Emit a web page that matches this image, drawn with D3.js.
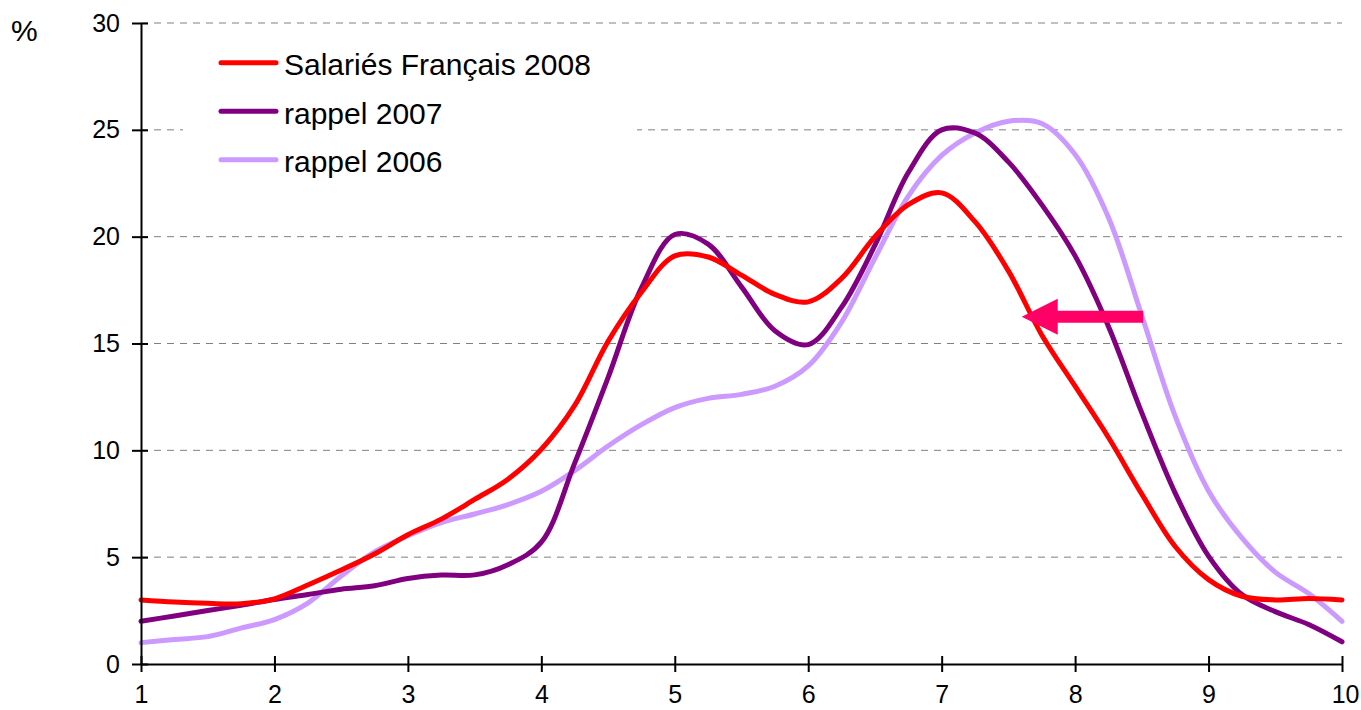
<!DOCTYPE html>
<html>
<head>
<meta charset="utf-8">
<script src="https://cdn.jsdelivr.net/npm/d3@7"></script>
<style>
  body { margin: 0; background: #fff; }
  text { font-family: "Liberation Sans", Arial, sans-serif; fill: #000; }
</style>
</head>
<body>
<div id="chart"></div>
<script>
// x positions shared by the three series (read every 0.25)
var xs = [1, 1.25, 1.5, 1.75, 2, 2.25, 2.5, 2.75, 3, 3.25, 3.5, 3.75, 4, 4.25, 4.5, 4.75,
          5, 5.25, 5.5, 5.75, 6, 6.25, 6.5, 6.75, 7, 7.25, 7.5, 7.75, 8, 8.25, 8.5, 8.75,
          9, 9.25, 9.5, 9.75, 10];

var salaries2008 = [3.0, 2.9, 2.84, 2.82, 3.05, 3.7, 4.4, 5.15, 6.05, 6.78, 7.7, 8.65, 10.05, 12.1, 15.1, 17.4,
                    19.1, 19.05, 18.2, 17.3, 16.95, 18.05, 20.0, 21.5, 22.05, 20.7, 18.4, 15.4, 13.0, 10.6, 7.95, 5.5,
                    3.95, 3.17, 3.0, 3.07, 3.0];

var rappel2007 = [2.0, 2.25, 2.5, 2.75, 3.02, 3.25, 3.5, 3.66, 4.0, 4.16, 4.17, 4.65, 5.7, 9.4, 13.4, 17.6,
                  20.1, 19.65, 17.65, 15.6, 14.95, 16.7, 19.6, 23.0, 25.0, 24.85, 23.5, 21.5, 19.1, 15.8, 11.75, 8.0,
                  5.05, 3.25, 2.45, 1.85, 1.04];

var rappel2006 = [1.0, 1.15, 1.28, 1.68, 2.08, 2.85, 4.12, 5.25, 6.0, 6.62, 7.02, 7.46, 8.08, 9.05, 10.2, 11.2,
                  12.0, 12.43, 12.62, 13.0, 13.95, 16.0, 19.0, 21.9, 23.8, 24.85, 25.4, 25.3, 23.85, 20.9, 16.3, 11.6,
                  8.1, 5.9, 4.3, 3.3, 2.0];

var seriesNames = ["Salariés Français 2008", "rappel 2007", "rappel 2006"];
var seriesColors = ["#ff0000", "#800080", "#cc99ff"];
var yTicks = [0, 5, 10, 15, 20, 25, 30];
var xTicks = [1, 2, 3, 4, 5, 6, 7, 8, 9, 10];

// arrow (data units): horizontal, from 2006 curve back to 2008 curve
var arrowY = 16.25, arrowFrom = 8.51, arrowTo = 7.6;

var width = 1361, height = 710;
var margin = { top: 23, right: 19, bottom: 46, left: 141 };
var w = width - margin.left - margin.right;
var h = height - margin.top - margin.bottom;

var svg = d3.select("#chart").append("svg")
    .attr("width", width)
    .attr("height", height);

var g = svg.append("g")
    .attr("transform", "translate(" + margin.left + "," + margin.top + ")");

var x = d3.scaleLinear().domain([1, 10]).range([0, w]);
var y = d3.scaleLinear().domain([0, 30]).range([h, 0]);

// gridlines
g.selectAll(".grid")
    .data(yTicks.filter(function (d) { return d > 0; }))
    .enter().append("line")
    .attr("x1", 0)
    .attr("x2", w)
    .attr("y1", function (d) { return y(d); })
    .attr("y2", function (d) { return y(d); })
    .style("stroke", "#808080")
    .style("stroke-width", 1)
    .style("stroke-dasharray", "7,6");

// series
var allSeries = [salaries2008, rappel2007, rappel2006];
var valueline = d3.line()
    .curve(d3.curveCatmullRom.alpha(0.5))
    .x(function (d, i) { return x(xs[i]); })
    .y(function (d) { return y(d); });

for (var i = allSeries.length - 1; i >= 0; i--) {
    g.append("path")
        .datum(allSeries[i])
        .attr("d", valueline)
        .style("fill", "none")
        .style("stroke", seriesColors[i])
        .style("stroke-width", 5)
        .style("stroke-linejoin", "round")
        .style("stroke-linecap", "round");
}

// arrow
var ay = y(arrowY), ax0 = x(arrowFrom), ax1 = x(arrowTo);
var shaft = 6, head = 18, headLen = 36;
g.append("path")
    .attr("d", "M" + ax0 + "," + (ay - shaft) +
        "L" + (ax1 + headLen) + "," + (ay - shaft) +
        "L" + (ax1 + headLen) + "," + (ay - head) +
        "L" + ax1 + "," + ay +
        "L" + (ax1 + headLen) + "," + (ay + head) +
        "L" + (ax1 + headLen) + "," + (ay + shaft) +
        "L" + ax0 + "," + (ay + shaft) + "Z")
    .style("fill", "#ff0066");

// axes
var yAxis = g.append("g")
    .call(d3.axisLeft(y).tickValues(yTicks).tickSizeInner(8).tickSizeOuter(0).tickPadding(12));
yAxis.selectAll(".tick line").attr("x2", 7).attr("x1", -9);
var xAxis = g.append("g")
    .attr("transform", "translate(0," + h + ")")
    .call(d3.axisBottom(x).tickValues(xTicks).tickSizeInner(8).tickSizeOuter(0).tickPadding(13));
xAxis.selectAll(".tick line").attr("y1", -8).attr("y2", 8);

svg.selectAll(".domain, .tick line").style("stroke", "#000").style("stroke-width", 2);
svg.selectAll(".tick text").style("font-size", "25px").style("font-family", "'Liberation Sans', Arial, sans-serif");
yAxis.selectAll(".tick text").attr("x", -21);
// keep the last label inside the window
xAxis.selectAll(".tick text").filter(function (d) { return d === 10; }).attr("text-anchor", "end").attr("x", 17);

// % label
svg.append("text")
    .attr("x", 11)
    .attr("y", 41)
    .style("font-size", "30px")
    .text("%");

// legend
var legend = svg.append("g").attr("transform", "translate(183,40)");
legend.append("rect")
    .attr("width", 454)
    .attr("height", 146)
    .style("fill", "#fff");
seriesNames.forEach(function (name, i) {
    var row = legend.append("g").attr("transform", "translate(0," + (22.7 + i * 48.5) + ")");
    row.append("line")
        .attr("x1", 38).attr("x2", 93)
        .style("stroke", seriesColors[i])
        .style("stroke-width", 5)
        .style("stroke-linecap", "round");
    row.append("text")
        .attr("x", 101)
        .attr("y", 12.3)
        .style("font-size", "30px")
        .text(name);
});
</script>
</body>
</html>
